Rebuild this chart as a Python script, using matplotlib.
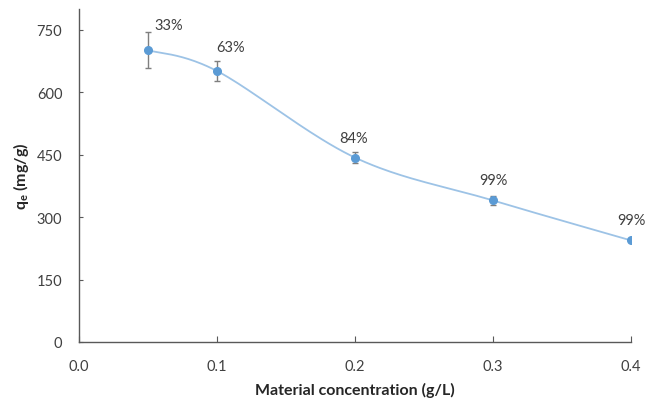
import numpy as np
import matplotlib
matplotlib.use("Agg")
import matplotlib.pyplot as plt

# Adsorption capacity vs. material dose
conc = [0.05, 0.1, 0.2, 0.3, 0.4]
qe = [701, 651, 443, 340, 244]
qe_err = [43, 23, 13, 11, 4]
removal = ["33%", "63%", "84%", "99%", "99%"]
label_offsets = [(15, 18), (9.5, 17.5), (-1.2, 14), (0, 14.5), (0, 14.5)]

x_ticks = [0.0, 0.1, 0.2, 0.3, 0.4]
y_ticks = [0, 150, 300, 450, 600, 750]

plt.rcParams["font.family"] = ["Lato", "DejaVu Sans"]
plt.rcParams["mathtext.fontset"] = "custom"
plt.rcParams["mathtext.rm"] = "Lato"
plt.rcParams["mathtext.bf"] = "Lato:bold"
text_col = "#404040"
axis_col = "#595959"


def smooth_curve(x, y, n=40):
    """Cubic Bezier smoothing through the points (Catmull-Rom style)."""
    x = np.asarray(x, float)
    y = np.asarray(y, float)
    px = np.concatenate([[x[0]], x, [x[-1]]])
    py = np.concatenate([[y[0]], y, [y[-1]]])
    xs, ys = [], []
    t = np.linspace(0, 1, n)
    for i in range(1, len(px) - 2):
        p0 = np.array([px[i], py[i]])
        p3 = np.array([px[i + 1], py[i + 1]])
        p1 = p0 + (np.array([px[i + 1], py[i + 1]]) - np.array([px[i - 1], py[i - 1]])) / 6
        p2 = p3 - (np.array([px[i + 2], py[i + 2]]) - np.array([px[i], py[i]])) / 6
        b = ((1 - t) ** 3)[:, None] * p0 + (3 * (1 - t) ** 2 * t)[:, None] * p1 \
            + (3 * (1 - t) * t ** 2)[:, None] * p2 + (t ** 3)[:, None] * p3
        xs.append(b[:, 0])
        ys.append(b[:, 1])
    return np.concatenate(xs), np.concatenate(ys)


fig = plt.figure(figsize=(6.54, 4.02), dpi=100)
ax = fig.add_axes([0.1208, 0.1468, 0.844, 0.8284])

sx, sy = smooth_curve(conc, qe)
ax.plot(sx, sy, color="#9DC3E6", lw=1.3, zorder=2)
ax.errorbar(conc, qe, yerr=qe_err, fmt="none", ecolor="#7F7F7F",
            elinewidth=1.0, capsize=2.5, capthick=1.0, zorder=3)
ax.plot(conc, qe, "o", color="#5B9BD5", ms=5.5, zorder=4)

for xv, yv, lab, off in zip(conc, qe, removal, label_offsets):
    ax.annotate(lab, (xv, yv), xytext=off, textcoords="offset points",
                ha="center", va="center", fontsize=10.5, color=text_col)

ax.set_xlim(0, 0.4)
ax.set_ylim(0, 800)
ax.set_xticks(x_ticks)
ax.set_xticklabels([f"{v:.1f}" for v in x_ticks])
ax.set_yticks(y_ticks)

for side in ("top", "right"):
    ax.spines[side].set_visible(False)
for side in ("left", "bottom"):
    ax.spines[side].set_color(axis_col)
    ax.spines[side].set_linewidth(1.0)

ax.tick_params(axis="x", direction="in", length=4, color=axis_col,
               labelcolor=text_col, labelsize=10.5, pad=12)
ax.tick_params(axis="y", direction="in", length=3, color=axis_col,
               labelcolor=text_col, labelsize=10.5, pad=12)

ax.set_xlabel("Material concentration (g/L)", fontsize=11.5, fontweight="bold",
              color="#262626", labelpad=7)
ax.set_ylabel(r"$\mathbf{q_e}$ (mg/g)", fontsize=11.5, fontweight="bold",
              color="#262626", labelpad=4)

fig.savefig("out.png", dpi=100, facecolor="white")
